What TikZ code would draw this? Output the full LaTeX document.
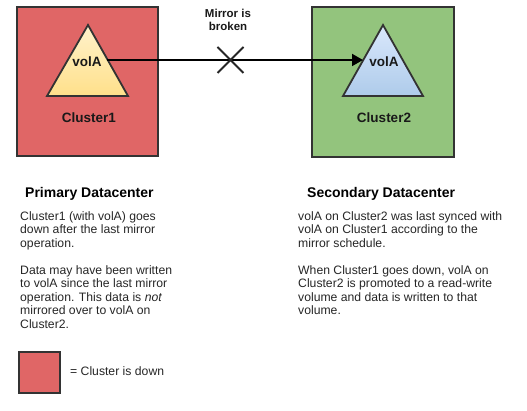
\documentclass[tikz,border=0pt]{standalone}
\usepackage{fontspec}
\setmainfont{Liberation Sans}
\usetikzlibrary{arrows.meta,shapes.geometric,calc}
\definecolor{downred}{HTML}{E06666}
\definecolor{upgreen}{HTML}{93C47D}
\definecolor{edgegray}{HTML}{333333}
\definecolor{yelT}{HTML}{FFF2CC}
\definecolor{yelB}{HTML}{FFE08A}
\definecolor{bluT}{HTML}{DAE8FC}
\definecolor{bluB}{HTML}{AECBEA}
\begin{document}
\begin{tikzpicture}[x=1pt,y=-1pt,
  cluster/.style={draw=edgegray,line width=2pt},
  tri/.style={draw=edgegray,line width=1.8pt,line join=miter},
  lbl/.style={font=\fontsize{13.5}{15}\selectfont\bfseries,inner sep=0pt,text=black!90},
  body/.style={font=\fontsize{12.2}{13.5}\selectfont,align=left,anchor=north west,inner sep=0pt,text=black!85},
  title/.style={font=\fontsize{14}{16}\selectfont\bfseries,anchor=west,inner sep=0pt}]
\useasboundingbox (0,0) rectangle (527,411);
% clusters
\node[cluster,fill=downred,minimum width=141pt,minimum height=149pt,inner sep=0pt] (c1) at (87.5,81.5) {};
\node[cluster,fill=upgreen,minimum width=142pt,minimum height=150pt,inner sep=0pt] (c2) at (383,82) {};
% triangles
\shade[top color=yelT,bottom color=yelB] (88,25) -- (128,96) -- (47,96) -- cycle;
\draw[tri] (88,25) -- (128,96) -- (47,96) -- cycle;
\shade[top color=bluT,bottom color=bluB] (383,25) -- (423,96) -- (343,96) -- cycle;
\draw[tri] (383,25) -- (423,96) -- (343,96) -- cycle;
\node[lbl] (v1) at (87,62) {volA};
\node[lbl] (v2) at (384,62) {volA};
\node[lbl] (l1) at (89,118) {Cluster1};
\node[lbl] (l2) at (384,118) {Cluster2};
% mirror
\coordinate (s) at (107,60);
\coordinate (t) at (363,60);
\draw[line width=1.8pt,-{Triangle[length=11pt,width=12pt]}] (s) -- (t);
\coordinate (xc) at (230.5,60);
\draw[line width=1.9pt,draw=black!85] ($(xc)+(-13,-13)$) -- ($(xc)+(13,13)$) ($(xc)+(-13,13)$) -- ($(xc)+(13,-13)$);
\node[font=\fontsize{11.5}{13}\selectfont\bfseries,align=center,inner sep=0pt,text=black!90] (mb) at (228,20) {Mirror is\\broken};
% texts
\node[title] (pt) at (25,194) {Primary Datacenter};
\node[body] (pb) at (20,211) {Cluster1 (with volA) goes\\down after the last mirror\\operation.\\[13.5pt]Data may have been written\\to volA since the last mirror\\operation. This data is \emph{not}\\mirrored over to volA on\\Cluster2.};
\node[title] (st) at (307,194) {Secondary Datacenter};
\node[body] (sb) at (298,211) {volA on Cluster2 was last synced with\\volA on Cluster1 according to the\\mirror schedule.\\[13.5pt]When Cluster1 goes down, volA on\\Cluster2 is promoted to a read-write\\volume and data is written to that\\volume.};
% legend
\node[cluster,fill=downred,minimum width=41pt,minimum height=41pt,inner sep=0pt,line width=2.5pt] (lg) at (39.5,372.5) {};
\node[font=\fontsize{12.2}{13.5}\selectfont,anchor=west,inner sep=0pt,text=black!85] (lt) at (70,371) {= Cluster is down};
\end{tikzpicture}
\end{document}
